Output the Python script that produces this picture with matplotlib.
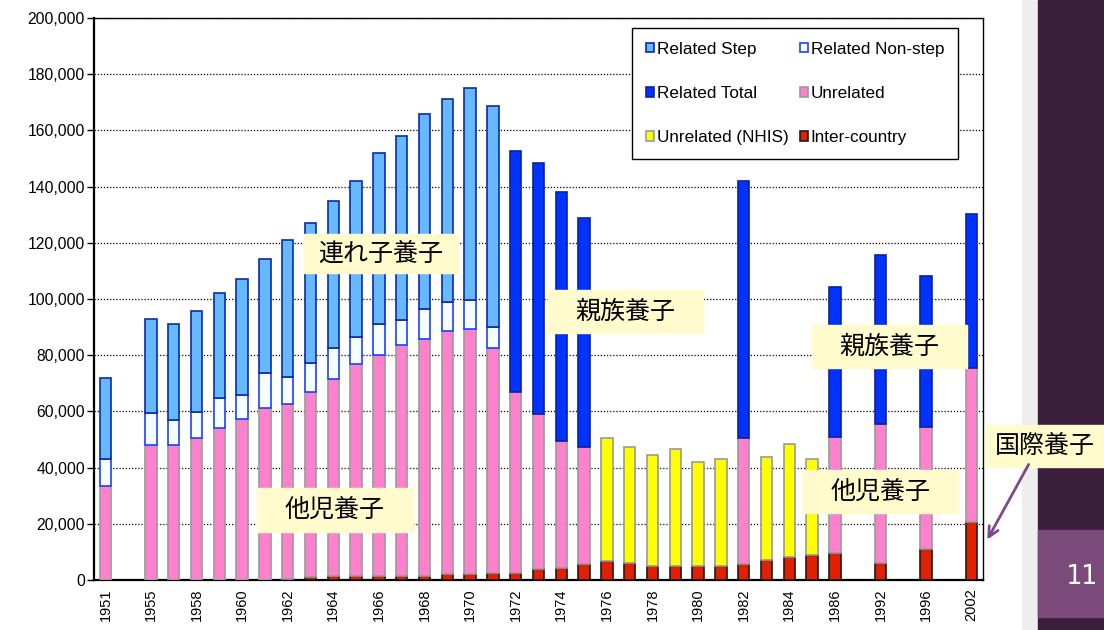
import numpy as np
import matplotlib.pyplot as plt
from matplotlib.patches import Rectangle, FancyArrowPatch
from matplotlib.ticker import StrMethodFormatter

plt.rcParams['font.family'] = ['Liberation Sans', 'Noto Sans CJK JP']

# one slot per bar, blank slots are the breaks in the series
years = ['1951', '', '1955', '1957', '1958', '1959', '1960', '1961', '1962', '1963',
         '1964', '1965', '1966', '1967', '1968', '1969', '1970', '1971', '1972', '1973',
         '1974', '1975', '1976', '1977', '1978', '1979', '1980', '1981', '1982', '1983',
         '1984', '1985', '1986', '', '1992', '', '1996', '', '2002']

inter_country = [0, 0, 0, 0, 0, 0, 0, 0, 500, 1000,
                 1600, 1500, 1500, 1500, 1500, 2100, 2100, 2600, 2600, 3900,
                 4300, 5600, 6600, 6200, 5000, 5000, 5000, 5000, 5600, 7100,
                 8300, 8900, 9500, 0, 6000, 0, 11200, 0, 20800]
unrelated = [33500, 0, 48200, 48200, 50600, 54000, 57400, 61300, 62100, 66000,
             69900, 75200, 78600, 82200, 84400, 86600, 87200, 79900, 64300, 55200,
             45000, 41800, 0, 0, 0, 0, 0, 0, 44800, 0,
             0, 0, 41300, 0, 49500, 0, 43100, 0, 54800]
unrelated_nhis = [0, 0, 0, 0, 0, 0, 0, 0, 0, 0,
                  0, 0, 0, 0, 0, 0, 0, 0, 0, 0,
                  0, 0, 44000, 41000, 39400, 41600, 37100, 38200, 0, 36700,
                  40100, 34300, 0, 0, 0, 0, 0, 0, 0]
related_nonstep = [9700, 0, 11100, 8700, 9300, 10900, 8600, 12200, 9800, 10300,
                   11000, 9900, 10900, 8900, 10400, 10300, 10300, 7600, 0, 0,
                   0, 0, 0, 0, 0, 0, 0, 0, 0, 0,
                   0, 0, 0, 0, 0, 0, 0, 0, 0]
related_step = [28600, 0, 33700, 34300, 35800, 37100, 41100, 40600, 48600, 49900,
                52500, 55400, 61100, 65300, 69600, 72000, 75400, 78600, 0, 0,
                0, 0, 0, 0, 0, 0, 0, 0, 0, 0,
                0, 0, 0, 0, 0, 0, 0, 0, 0]
related_total = [0, 0, 0, 0, 0, 0, 0, 0, 0, 0,
                 0, 0, 0, 0, 0, 0, 0, 0, 85900, 89200,
                 88700, 81300, 0, 0, 0, 0, 0, 0, 91600, 0,
                 0, 0, 53300, 0, 60200, 0, 53900, 0, 54800]

W, H = 1104, 630


def fx(px):
    return px / W


def fy(py):
    return 1 - py / H


fig = plt.figure(figsize=(W / 100, H / 100), dpi=100)
ax = fig.add_axes([fx(94), fy(580), fx(983) - fx(94), fy(18) - fy(580)])

x = np.arange(len(years))
series = [
    ('Inter-country', inter_country, '#E02000', '#1A1A1A'),
    ('Unrelated', unrelated, '#FF80CC', '#9A9A9A'),
    ('Unrelated (NHIS)', unrelated_nhis, '#FFFF00', '#9A9A9A'),
    ('Related Non-step', related_nonstep, '#F6FFFF', '#1E40FF'),
    ('Related Step', related_step, '#66B8FF', '#0D2AA8'),
    ('Related Total', related_total, '#0033FF', '#0A22A0'),
]

bottom = np.zeros(len(x))
bars = {}
for name, vals, fc, ec in series:
    v = np.array(vals, dtype=float)
    m = v > 0
    bars[name] = ax.bar(x[m], v[m], 0.5, bottom=bottom[m], color=fc,
                        edgecolor=ec, linewidth=1.2, label=name, zorder=3)
    bottom += v

ax.set_xlim(-0.5, len(years) - 0.5)
ax.set_ylim(0, 200000)
ax.set_yticks(np.arange(0, 200001, 20000))
ax.yaxis.set_major_formatter(StrMethodFormatter('{x:,.0f}'))
ax.set_xticks(x[::2])
ax.set_xticklabels(years[::2], rotation=90)
ax.tick_params(axis='x', length=0, labelsize=10.5, pad=6)
ax.tick_params(axis='y', length=5, width=1, labelsize=11.3, direction='out', pad=1.5)
ax.yaxis.grid(True, color='black', linestyle=(0, (1, 1.5)), linewidth=0.9)
ax.set_axisbelow(True)
for s in ax.spines.values():
    s.set_color('black')
    s.set_linewidth(1)
ax.spines['left'].set_linewidth(1.6)
ax.spines['bottom'].set_linewidth(1.6)

order = ['Related Step', 'Related Total', 'Unrelated (NHIS)',
         'Related Non-step', 'Unrelated', 'Inter-country']
leg = ax.legend([bars[k] for k in order], order, ncol=2, loc='upper left',
                bbox_to_anchor=((632 - 94) / 889, (580 - 28) / 562),
                borderaxespad=0, fontsize=12.3, frameon=True, fancybox=False,
                edgecolor='black', framealpha=1, handlelength=0.5,
                handleheight=0.5, handletextpad=0.15, labelspacing=1.72,
                columnspacing=0.65, borderpad=0.8)
leg.get_frame().set_linewidth(1)
leg.set_zorder(5)

# slide background on the right
fig.patches.append(Rectangle((fx(1022), 0), fx(1038) - fx(1022), 1,
                             transform=fig.transFigure, color='#EEEEEE', zorder=1))
fig.patches.append(Rectangle((fx(1038), 0), 1 - fx(1038), 1,
                             transform=fig.transFigure, color='#3B1F3D', zorder=1))
fig.patches.append(Rectangle((fx(1038), fy(617)), 1 - fx(1038), fy(530) - fy(617),
                             transform=fig.transFigure, color='#7A4A7A', zorder=1))
fig.text(fx(1082), fy(577), '11', color='white', fontsize=19,
         family='DejaVu Sans Mono', ha='center', va='center', zorder=2)

# callout boxes
callouts = [
    ('連れ子養子', 304, 234, 458, 273),
    ('他児養子', 257, 488, 413, 532),
    ('親族養子', 548, 290, 703, 333),
    ('親族養子', 812, 325, 967, 368),
    ('他児養子', 803, 470, 958, 513),
    ('国際養子', 985, 425, 1104, 467),
]
for txt, x0, y0, x1, y1 in callouts:
    fig.patches.append(Rectangle((fx(x0), fy(y1)), fx(x1) - fx(x0), fy(y0) - fy(y1),
                                 transform=fig.transFigure, color='#FFFBCC', zorder=6))
    fig.text(fx((x0 + x1) / 2), fy((y0 + y1) / 2), txt, fontsize=18,
             family=['Noto Sans CJK JP'], ha='center', va='center', zorder=7)

fig.patches.append(FancyArrowPatch((fx(1030), fy(462)), (fx(986), fy(542)),
                                   transform=fig.transFigure, arrowstyle='->',
                                   mutation_scale=18, color='#7B4A8A',
                                   linewidth=2, zorder=7))

fig.savefig('out.png', dpi=100)
